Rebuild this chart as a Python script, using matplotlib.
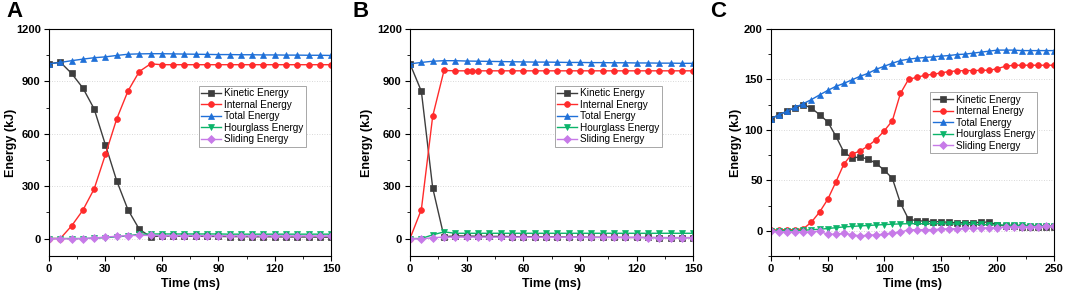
import matplotlib
matplotlib.use("Agg")
import matplotlib.pyplot as plt
from matplotlib.ticker import MultipleLocator, AutoMinorLocator

plt.rcParams['font.family'] = ['Liberation Sans', 'DejaVu Sans']

series_names = ["Kinetic Energy", "Internal Energy", "Total Energy", "Hourglass Energy", "Sliding Energy"]
colors = ["#3d3d3d", "#ff2b2b", "#1f70d8", "#0bb46a", "#c77ae8"]
markers = ["s", "o", "^", "v", "D"]

# ---------- Panel A ----------
A_time = [0, 6, 12, 18, 24, 30, 36, 42, 48, 54, 60, 66, 72, 78, 84, 90, 96, 102, 108, 114, 120, 126, 132, 138, 144, 150]
A_kin = [1000, 1010, 945, 862, 742, 536, 330, 164, 53, 10, 15, 14, 13, 13, 12, 12, 11, 11, 10, 10, 10, 9, 9, 9, 8, 8]
A_int = [0, 0, 72, 162, 284, 481, 685, 845, 956, 1000, 995, 995, 995, 995, 995, 995, 995, 995, 995, 995, 995, 995, 995, 995, 995, 995]
A_tot = [1000, 1008, 1018, 1027, 1035, 1040, 1048, 1055, 1057, 1058, 1058, 1057, 1056, 1055, 1054, 1053, 1053, 1052, 1052, 1051, 1051, 1050, 1050, 1049, 1049, 1048]
A_hg = [0, 0, 0, 0, 2, 5, 10, 15, 25, 26, 26, 26, 26, 26, 26, 26, 25, 25, 25, 25, 25, 25, 25, 25, 25, 25]
A_sl = [0, 0, -3, 0, 3, 8, 13, 17, 18, 18, 17, 17, 16, 16, 16, 16, 15, 15, 15, 15, 15, 15, 15, 15, 15, 15]

# ---------- Panel B ----------
B_time = [0, 6, 12, 18, 24, 30, 36, 42, 48, 54, 60, 66, 72, 78, 84, 90, 96, 102, 108, 114, 120, 126, 132, 138, 144, 150]
B_time_int = [0, 6, 12, 18, 24, 30, 33, 36, 42, 48, 54, 60, 66, 72, 78, 84, 90, 96, 102, 108, 114, 120, 126, 132, 138, 144, 150]
B_kin = [1000, 843, 290, 10, 15, 14, 13, 12, 12, 11, 10, 10, 9, 9, 8, 8, 7, 7, 7, 6, 6, 6, 5, 5, 5, 5]
B_int = [0, 166, 700, 962, 960, 960, 960, 960, 960, 960, 960, 960, 960, 960, 960, 960, 960, 960, 960, 960, 960, 960, 960, 960, 960, 960, 960]
B_tot = [1000, 1008, 1015, 1018, 1018, 1016, 1015, 1014, 1013, 1012, 1011, 1010, 1010, 1009, 1008, 1008, 1007, 1007, 1006, 1006, 1005, 1005, 1004, 1004, 1003, 1003]
B_hg = [0, 0, 21, 38, 30, 30, 30, 30, 30, 30, 30, 30, 30, 30, 30, 30, 30, 30, 30, 30, 30, 30, 30, 30, 30, 30]
B_sl = [0, -3, 5, 8, 8, 8, 8, 8, 8, 8, 8, 7, 7, 7, 7, 7, 6, 6, 6, 6, 6, 5, 5, 5, 5, 5]

# ---------- Panel C ----------
C_time = [0, 7.14, 14.29, 21.43, 28.57, 35.71, 42.86, 50, 57.14, 64.29, 71.43, 78.57, 85.71, 92.86,
          100, 107.14, 114.29, 121.43, 128.57, 135.71, 142.86, 150, 157.14, 164.29, 171.43, 178.57,
          185.71, 192.86, 200, 207.14, 214.29, 221.43, 228.57, 235.71, 242.86, 250]
C_kin = [111, 115, 118.5, 122, 125, 121.5, 115, 108, 94, 78, 72.3, 73, 71, 66.7, 60, 52, 27.4, 11.5,
         10, 9.5, 9, 9, 8.3, 8, 8, 8, 8.5, 8.5, 6, 4.6, 4.3, 4, 4, 4, 4, 4]
C_int = [0.5, 1, 1, 1, 2, 8.6, 18.5, 31, 48, 66, 76, 79, 84, 90.4, 99, 109, 136, 150, 152, 154,
         155, 156.4, 157.7, 158.4, 158.7, 158.7, 159, 159, 160.7, 163, 164, 164, 164, 164, 164, 164]
C_tot = [111, 115, 118.5, 122.4, 126, 130, 134.6, 139, 143, 146, 149.5, 153, 156, 160, 163, 166,
         168.6, 170, 171, 171.6, 172.3, 173, 173.6, 174.6, 175, 176, 177, 178, 179, 179, 179, 178.5,
         178.5, 178.5, 178.5, 178.5]
C_hg = [0, 0, 0, 0, 0.5, 1, 1.5, 2.2, 3, 3.8, 4.3, 4.8, 5.2, 5.7, 6.1, 6.5, 6.8, 7, 7, 7, 7, 7,
        6.8, 6.7, 6.5, 6.3, 6.2, 6, 5.8, 5.6, 5.5, 5.3, 5.2, 5, 5, 5]
C_sl = [0, -1, -1.5, -1.5, -1.5, -1, -0.5, -3.5, -3.5, -2.5, -4, -5, -4.5, -4, -3.5, -2, -1.5, 1,
        1, 1, 1.2, 1.5, 2, 2, 2.3, 2.5, 2.7, 3, 3.2, 3.5, 3.8, 4, 4, 4.2, 4.3, 4.5]

panels = [
    dict(letter="A", rect=[0.046, 0.141, 0.265, 0.762], xlim=(0, 150), xstep=30, ylim=(-100, 1200), ystep=300,
         times=[A_time, A_time, A_time, A_time, A_time], data=[A_kin, A_int, A_tot, A_hg, A_sl],
         legend=(0.53, 0.75), letter_pos=(0.006, 0.995), ylab_x=-0.113),
    dict(letter="B", rect=[0.385, 0.141, 0.266, 0.762], xlim=(0, 150), xstep=30, ylim=(-100, 1200), ystep=300,
         times=[B_time, B_time_int, B_time, B_time, B_time], data=[B_kin, B_int, B_tot, B_hg, B_sl],
         legend=(0.51, 0.75), letter_pos=(0.331, 0.995), ylab_x=-0.131),
    dict(letter="C", rect=[0.724, 0.141, 0.2657, 0.762], xlim=(0, 250), xstep=50, ylim=(-25, 200), ystep=50,
         times=[C_time] * 5, data=[C_kin, C_int, C_tot, C_hg, C_sl],
         legend=(0.562, 0.72), letter_pos=(0.667, 0.995), ylab_x=-0.102),
]

fig = plt.figure(figsize=(10.65, 2.98), dpi=100)

for p in panels:
    ax = fig.add_axes(p["rect"])
    for name, t, y, c, m in zip(series_names, p["times"], p["data"], colors, markers):
        ax.plot(t, y, color=c, marker=m, markersize=4.2 if m != "D" else 3.8, lw=1.0, label=name,
                markeredgewidth=0.5, markeredgecolor=c)
    ax.set_xlim(*p["xlim"])
    ax.set_ylim(*p["ylim"])
    ax.xaxis.set_major_locator(MultipleLocator(p["xstep"]))
    ax.yaxis.set_major_locator(MultipleLocator(p["ystep"]))
    ax.xaxis.set_minor_locator(AutoMinorLocator(2))
    ax.yaxis.set_minor_locator(AutoMinorLocator(2))
    ax.tick_params(which="major", direction="out", length=3.5, width=0.8, labelsize=8, pad=2.5)
    ax.tick_params(which="minor", direction="out", length=2, width=0.6)
    ax.tick_params(top=False, right=False)
    for lab in ax.get_xticklabels() + ax.get_yticklabels():
        lab.set_fontweight("bold")
    for s in ax.spines.values():
        s.set_linewidth(0.8)
    ax.grid(axis="y", which="major", color="#cccccc", linestyle=(0, (1, 2)), linewidth=0.6)
    ax.set_axisbelow(True)
    ax.set_xlabel("Time (ms)", fontsize=9, fontweight="bold", labelpad=3)
    ax.set_ylabel("Energy (kJ)", fontsize=9, fontweight="bold")
    ax.yaxis.set_label_coords(p["ylab_x"], 0.5)
    leg = ax.legend(loc="upper left", bbox_to_anchor=p["legend"], fontsize=7.2, frameon=True, fancybox=False,
                    handlelength=2.0, handletextpad=0.3, borderpad=0.25, labelspacing=0.15,
                    borderaxespad=0, framealpha=1)
    leg.get_frame().set_edgecolor("#999999")
    leg.get_frame().set_linewidth(0.6)
    fig.text(p["letter_pos"][0], p["letter_pos"][1], p["letter"], fontsize=16, fontweight="bold",
             ha="left", va="top")

fig.savefig("out.png", dpi=100)
